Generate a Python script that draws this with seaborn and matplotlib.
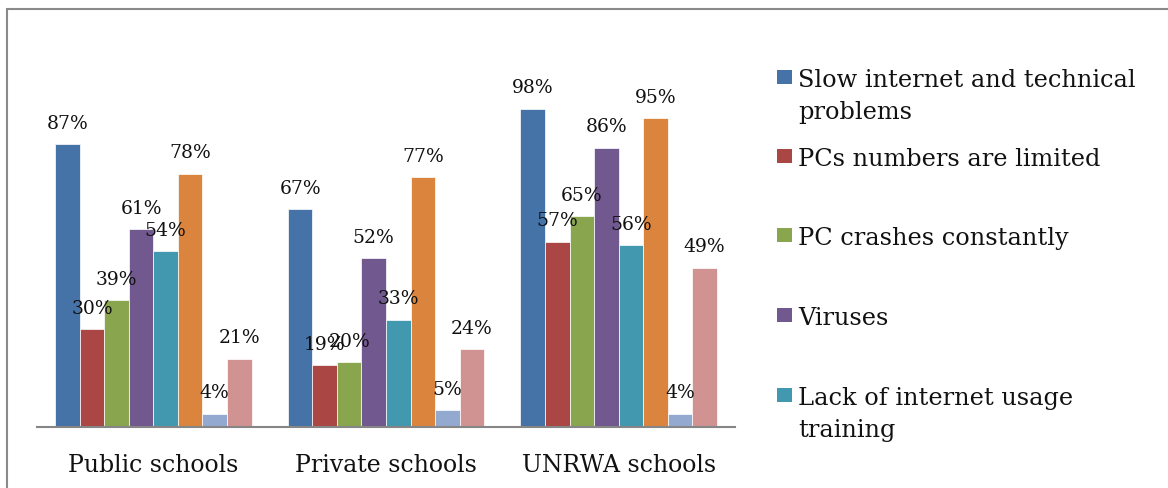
import matplotlib
matplotlib.use("Agg")
import matplotlib.pyplot as plt
from matplotlib.lines import Line2D
from matplotlib.patches import Rectangle
import seaborn as sns
import pandas as pd

# ---------------- data ----------------
schools = ["Public schools", "Private schools", "UNRWA schools"]
series_names = [
    "Slow internet and technical\nproblems",
    "PCs numbers are limited",
    "PC crashes constantly",
    "Viruses",
    "Lack of internet usage\ntraining",
    "Series 6",
    "Series 7",
    "Series 8",
]
slow_internet = [87, 67, 98]
pcs_limited = [30, 19, 57]
pc_crashes = [39, 20, 65]
viruses = [61, 52, 86]
lack_training = [54, 33, 56]
series6 = [78, 77, 95]
series7 = [4, 5, 4]
series8 = [21, 24, 49]
all_series = [slow_internet, pcs_limited, pc_crashes, viruses,
              lack_training, series6, series7, series8]
legend_shown = 5  # only first five entries are visible in the legend

colors = ["#4572A7", "#AA4643", "#89A54E", "#71588F",
          "#4198AF", "#DB843D", "#93A9CF", "#D19392"]

rows = []
for name, vals in zip(series_names, all_series):
    for s, v in zip(schools, vals):
        rows.append({"school": s, "issue": name, "value": v / 100})
df = pd.DataFrame(rows)

# ---------------- figure ----------------
W, H = 1168, 489
dpi = 100
sns.set_theme(style="white")
plt.rcParams["font.family"] = ["DejaVu Serif"]

fig = plt.figure(figsize=(W / dpi, H / dpi), dpi=dpi)

def px_axes(x0, y0, x1, y1):
    return [x0 / W, 1 - y1 / H, (x1 - x0) / W, (y1 - y0) / H]

ax = fig.add_axes(px_axes(37, 38.3, 735, 427.7))

sns.barplot(data=df, x="school", y="value", hue="issue",
            hue_order=series_names, order=schools,
            palette=colors, saturation=1, width=0.844, gap=0,
            edgecolor="white", linewidth=0.5, legend=False, ax=ax)

ax.set_ylim(0, 1.2)
ax.set_xlim(-0.5, 2.5)
ax.set_xlabel("")
ax.set_ylabel("")
ax.set_yticks([])
for side in ["left", "right", "top"]:
    ax.spines[side].set_visible(False)
ax.spines["bottom"].set_color("#868686")
ax.spines["bottom"].set_linewidth(1.5)
ax.tick_params(axis="x", length=0, pad=19, labelsize=17)
for lbl in ax.get_xticklabels():
    lbl.set_color("#111111")

# value labels
for cont in ax.containers:
    for bar in cont:
        h = bar.get_height()
        ax.annotate(f"{round(h * 100):d}%",
                    (bar.get_x() + bar.get_width() / 2, h),
                    xytext=(0, 11.7), textcoords="offset points",
                    ha="center", va="baseline", fontsize=13.5,
                    color="#111111")

# legend (manual, Excel style with evenly spaced slots)
fx = lambda x: x / W
fy = lambda y: 1 - y / H
first_baselines = [87, 166, 245, 325, 405]
line_gap = 32
for i in range(legend_shown):
    b = first_baselines[i]
    fig.patches.append(Rectangle((fx(777), fy(b - 2)), 15 / W, 14 / H,
                                 transform=fig.transFigure,
                                 facecolor=colors[i], edgecolor="none"))
    for j, line in enumerate(series_names[i].split("\n")):
        fig.text(fx(798), fy(b + j * line_gap), line, fontsize=17.3,
                 ha="left", va="baseline", color="#111111")

# outer chart border (cropped at right and bottom)
border_kw = dict(color="#8A8A8A", linewidth=1.5, transform=fig.transFigure)
fig.lines.append(Line2D([fx(7), fx(7)], [fy(10), 0], **border_kw))
fig.lines.append(Line2D([fx(7), 1], [fy(10), fy(10)], **border_kw))

fig.savefig("out.png", dpi=dpi, facecolor="white")
